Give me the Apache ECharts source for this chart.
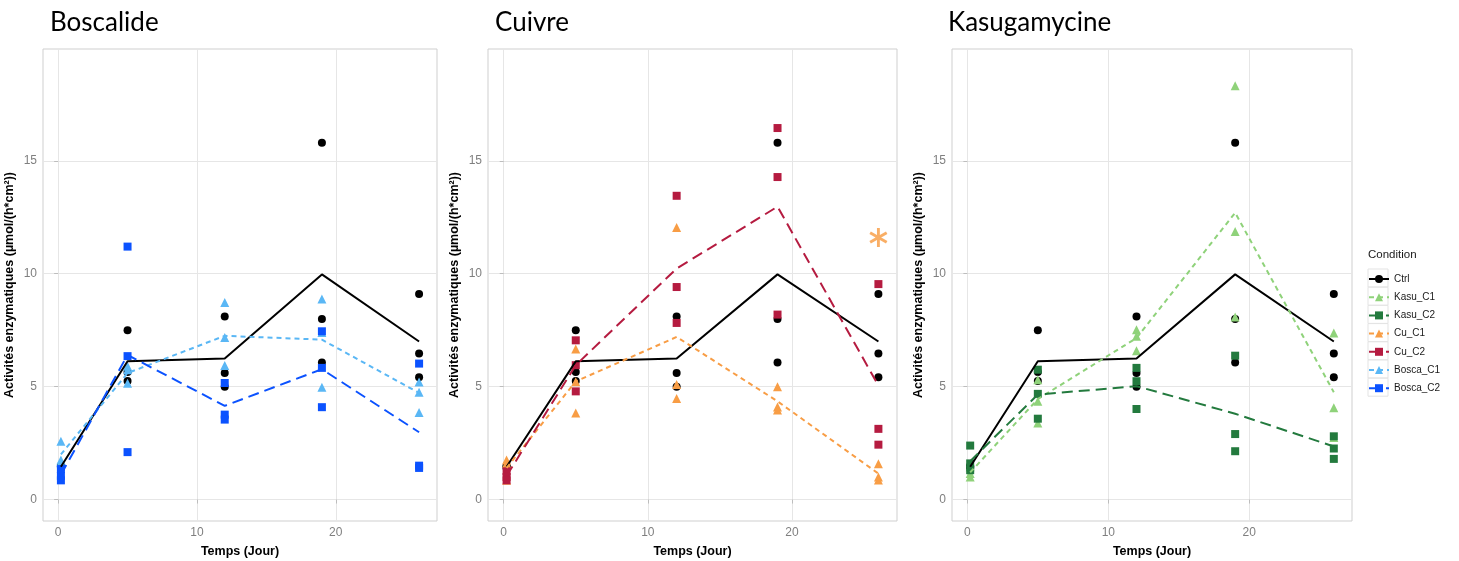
<!DOCTYPE html>
<html><head><meta charset="utf-8">
<script src="https://cdn.jsdelivr.net/npm/echarts@6/dist/echarts.min.js"></script>
<style>html,body{margin:0;padding:0;background:#fff}#c{width:1459px;height:561px}</style>
</head><body><div id="c"></div>
<script>
// ---------- data ----------
const days = [0.2, 5, 12, 19, 26];
const panelTitles = ['Boscalide', 'Cuivre', 'Kasugamycine'];
const xTickValues = [0, 10, 20];
const yTickValues = [0, 5, 10, 15];
const legendNames = ['Ctrl', 'Kasu_C1', 'Kasu_C2', 'Cu_C1', 'Cu_C2', 'Bosca_C1', 'Bosca_C2'];

// replicates per day (3 each)
const ctrlReps     = [[1.5, 1.4, 1.45], [7.5, 5.65, 5.25], [8.1, 5.6, 5.0], [15.8, 8.0, 6.07], [9.1, 6.47, 5.41]];
const ctrlMean     = [1.45, 6.12, 6.25, 9.97, 7.0];

const boscaC1Reps  = [[2.58, 1.75, 1.65], [5.75, 5.15, 5.9], [8.73, 7.18, 5.93], [8.88, 7.4, 4.97], [5.2, 4.75, 3.85]];
const boscaC1Mean  = [2.0, 5.6, 7.25, 7.08, 4.72];
const boscaC2Reps  = [[1.05, 0.85, 1.35], [11.2, 6.35, 2.1], [5.16, 3.76, 3.54], [7.45, 5.83, 4.09], [6.02, 1.5, 1.4]];
const boscaC2Mean  = [1.1, 6.4, 4.15, 5.77, 2.98];

const cuC1Reps     = [[1.75, 1.6, 0.85], [6.67, 5.22, 3.83], [12.05, 5.09, 4.47], [4.99, 4.1, 3.96], [1.59, 1.0, 0.86]];
const cuC1Mean     = [1.4, 5.23, 7.2, 4.35, 1.15];
const cuC2Reps     = [[1.25, 1.0, 0.85], [7.05, 5.95, 4.79], [13.45, 9.41, 7.82], [16.45, 14.28, 8.19], [9.54, 3.13, 2.43]];
const cuC2Mean     = [1.05, 5.95, 10.23, 12.97, 5.05];

const kasuC1Reps   = [[1.45, 1.15, 1.0], [5.3, 4.35, 3.39], [7.52, 7.23, 6.59], [18.32, 11.87, 8.08], [7.37, 4.06, 2.75]];
const kasuC1Mean   = [1.2, 4.45, 7.15, 12.7, 4.75];
const kasuC2Reps   = [[2.39, 1.6, 1.3], [5.75, 4.68, 3.58], [5.83, 5.24, 4.01], [6.37, 2.9, 2.14], [2.8, 2.26, 1.8]];
const kasuC2Mean   = [1.7, 4.65, 5.02, 3.8, 2.35];

const asteriskPos  = [26, 11.6];   // significance mark in the Cuivre panel

// ---------- styles ----------
const FONT = 'Liberation Sans';
const styles = {
  Ctrl:     {color: '#000000', symbol: 'circle',   size: 8, dash: 'solid'},
  Kasu_C1:  {color: '#8FD27A', symbol: 'triangle', size: 9, dash: [5, 4]},
  Kasu_C2:  {color: '#237A3E', symbol: 'rect',     size: 8, dash: [11, 6]},
  Cu_C1:    {color: '#F89D45', symbol: 'triangle', size: 9, dash: [5, 4]},
  Cu_C2:    {color: '#B51B40', symbol: 'rect',     size: 8, dash: [11, 6]},
  Bosca_C1: {color: '#5AB7F5', symbol: 'triangle', size: 9, dash: [5, 4]},
  Bosca_C2: {color: '#0B52FF', symbol: 'rect',     size: 8, dash: [11, 6]}
};
const panels = [
  {conds: [['Bosca_C1', boscaC1Reps, boscaC1Mean], ['Bosca_C2', boscaC2Reps, boscaC2Mean]]},
  {conds: [['Cu_C1', cuC1Reps, cuC1Mean], ['Cu_C2', cuC2Reps, cuC2Mean]]},
  {conds: [['Kasu_C1', kasuC1Reps, kasuC1Mean], ['Kasu_C2', kasuC2Reps, kasuC2Mean]]}
];
const gridBoxes = [
  {left: 43, top: 49, width: 394, height: 472},
  {left: 488, top: 49, width: 409, height: 472},
  {left: 952, top: 49, width: 400, height: 472}
];
const titleLefts = [50, 495, 948];

function repsToPoints(reps) {
  const pts = [];
  reps.forEach((arr, i) => arr.forEach(v => pts.push([days[i], v])));
  return pts;
}
function meanToPoints(m) { return m.map((v, i) => [days[i], v]); }

const lineSeries = [], pointSeries = [];
panels.forEach((p, pi) => {
  const all = [['Ctrl', ctrlReps, ctrlMean]].concat(p.conds);
  all.forEach(([name, reps, mean]) => {
    const s = styles[name];
    lineSeries.push({
      type: 'line', name, xAxisIndex: pi, yAxisIndex: pi,
      data: meanToPoints(mean), symbol: s.symbol, showSymbol: false,
      lineStyle: {color: s.color, width: 2, type: s.dash},
      itemStyle: {color: s.color}, z: 4, silent: true
    });
    pointSeries.push({
      type: 'scatter', name, xAxisIndex: pi, yAxisIndex: pi,
      data: repsToPoints(reps), symbol: s.symbol, symbolSize: s.size,
      itemStyle: {color: s.color, opacity: 1}, z: 3, silent: true
    });
  });
});
pointSeries.push({
  type: 'scatter', name: 'asterisk', xAxisIndex: 1, yAxisIndex: 1,
  data: [asteriskPos],
  symbol: 'path://M-1.5,-10L1.5,-10L1.5,10L-1.5,10ZM-9.41,-3.7L-7.91,-6.3L9.41,3.7L7.91,6.3ZM7.91,-6.3L9.41,-3.7L-7.91,6.3L-9.41,3.7Z',
  symbolSize: [18, 19], itemStyle: {color: '#F89A3E'}, z: 5, silent: true
});

const xAxes = gridBoxes.map((g, i) => ({
  type: 'value', gridIndex: i, min: -1.09, max: 27.29, minInterval: 5, maxInterval: 5,
  name: 'Temps (Jour)', nameLocation: 'middle', nameGap: 24,
  nameTextStyle: {fontFamily: FONT, fontWeight: 'bold', fontSize: 12.5, color: '#000'},
  axisLine: {show: false},
  axisTick: {show: true, length: 4, lineStyle: {color: '#BDBDBD'}, customValues: xTickValues},
  axisLabel: {show: true, margin: 6, fontFamily: FONT, fontSize: 12, color: '#7F7F7F', customValues: xTickValues},
  splitLine: {show: true, lineStyle: {color: '#E6E6E6', width: 1}}
}));
const yAxes = gridBoxes.map((g, i) => ({
  type: 'value', gridIndex: i, min: -0.95, max: 19.95, minInterval: 2.5, maxInterval: 2.5,
  name: 'Activités enzymatiques (µmol/(h*cm²))', nameLocation: 'middle', nameGap: 27, nameRotate: 90,
  nameTextStyle: {fontFamily: FONT, fontWeight: 'bold', fontSize: 12.5, color: '#000'},
  axisLine: {show: false},
  axisTick: {show: true, length: 4, lineStyle: {color: '#BDBDBD'}, customValues: yTickValues},
  axisLabel: {show: true, margin: 6, fontFamily: FONT, fontSize: 12, color: '#7F7F7F', customValues: yTickValues},
  splitLine: {show: true, lineStyle: {color: '#E6E6E6', width: 1}}
}));

// legend key boxes
const legendTop = 268.5;
const legendStep = 18.2;
const graphics = [{
  type: 'text', left: 1368, top: 249,
  style: {text: 'Condition', fontFamily: FONT, fontSize: 11.5, fill: '#1a1a1a'}
}];
legendNames.forEach((n, i) => {
  graphics.push({
    type: 'rect', left: 1367.5, top: legendTop + i * legendStep, z: -1,
    shape: {width: 20, height: 18},
    style: {fill: '#fff', stroke: '#E3E3E3', lineWidth: 1}
  });
});

const option = {
  animation: false,
  backgroundColor: '#fff',
  title: panelTitles.map((t, i) => ({
    text: t, left: titleLefts[i], top: 10, padding: 0,
    textStyle: {fontFamily: 'Lato', fontWeight: 'normal', fontSize: 26, color: '#000'}
  })),
  grid: gridBoxes.map(g => Object.assign({show: true, borderColor: '#CFCFCF', borderWidth: 1,
    backgroundColor: 'transparent', outerBoundsMode: 'none', containLabel: false}, g)),
  xAxis: xAxes,
  yAxis: yAxes,
  legend: {
    data: legendNames, orient: 'vertical', left: 1368, top: legendTop + 5.5, padding: 0,
    itemWidth: 20, itemHeight: 10, itemGap: legendStep - 10,
    textStyle: {fontFamily: FONT, fontSize: 10, color: '#1a1a1a'},
    selectedMode: false
  },
  graphic: graphics,
  series: lineSeries.concat(pointSeries)
};
const chart = echarts.init(document.getElementById('c'), null, {renderer: 'canvas'});
chart.setOption(option);
</script>
</body></html>
